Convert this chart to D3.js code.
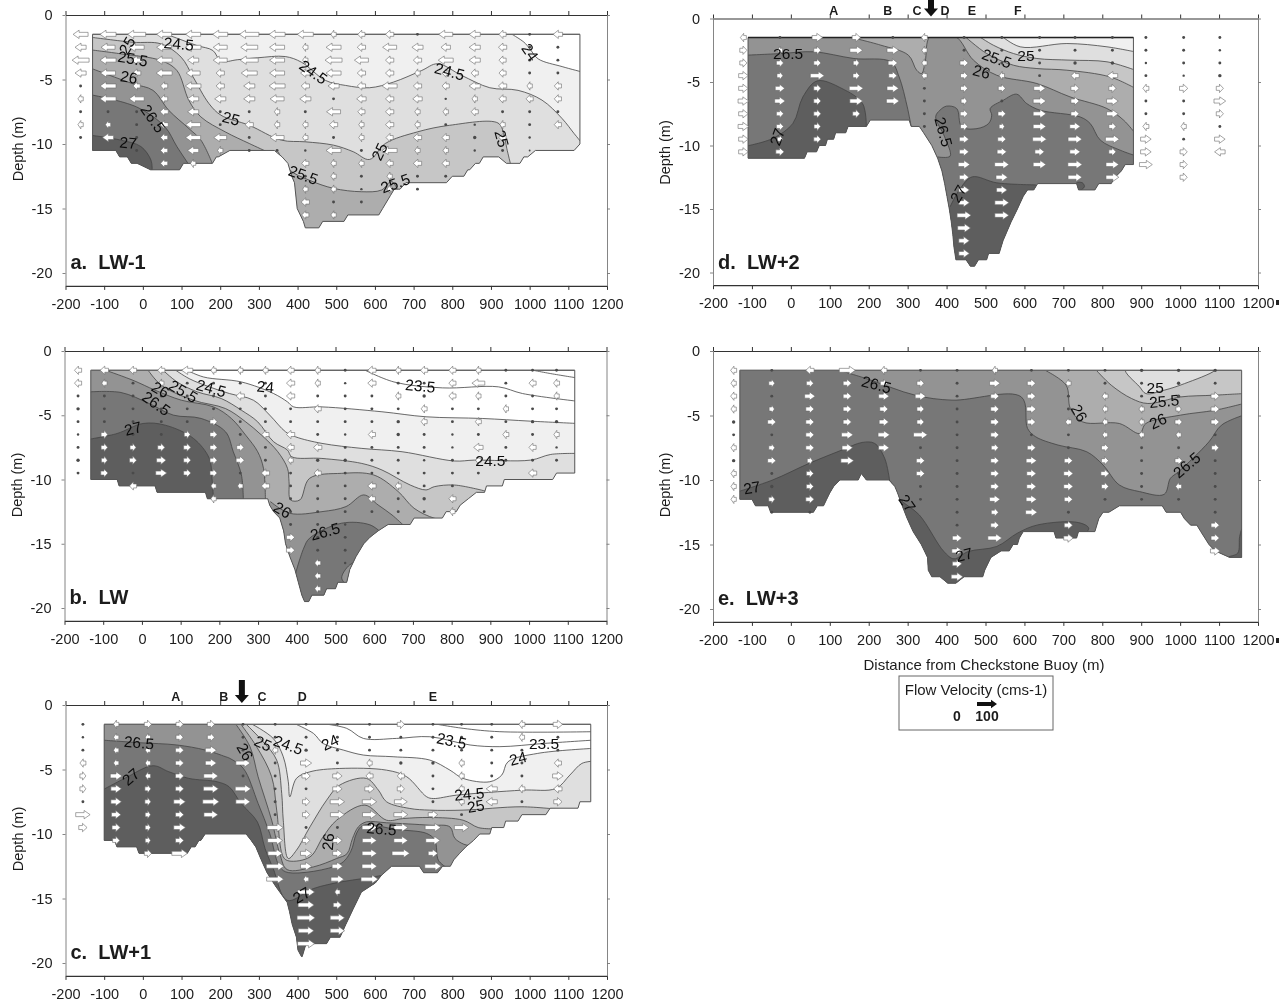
<!DOCTYPE html>
<html>
<head>
<meta charset="utf-8">
<script src="https://cdn.jsdelivr.net/npm/d3@7"></script>
<style>
body {margin:0; background:#fff;}
svg {display:block; filter:blur(0.45px);}
text {font-family:"Liberation Sans", Arial, sans-serif; fill:#1c1c1c;}
.axis text {font-size:14.5px;}
.axis line {stroke:#333; stroke-width:1;}
.axis path {stroke:#333; stroke-width:1.2;}
.side path, .side line {stroke:#777; stroke-width:0.9;}
</style>
</head>
<body>
<div id="chart"></div>
<script>
var xTicks = [-200,-100,0,100,200,300,400,500,600,700,800,900,1000,1100,1200];
var yTicks = [0,-5,-10,-15,-20];
var temps = [23,23.5,24,24.5,25,25.5,26,26.5,27];
var grays = ["#ffffff","#ffffff","#f0f0f0","#dfdfdf","#c6c6c6","#adadad","#939393","#777777","#5e5e5e"];

// Panel a : LW-1
// bottom steps are [from x, to x, depth]
var a_bottom = [[-130,-70,-10.5],[-60,-40,-11],[-30,-15,-11.5],[20,95,-12],[105,180,-11.5],[190,195,-11],[225,340,-10.5],[360,360,-11],[375,375,-11.5],[385,385,-12.5],[392,392,-13],[399,399,-15],[415,415,-16],[420,455,-16.5],[465,520,-16],[530,610,-15.5],[620,620,-15],[640,640,-14],[650,665,-13.5],[680,785,-13],[800,830,-12.5],[840,845,-12],[860,870,-11.5],[880,920,-11],[940,975,-11.5],[985,995,-11],[1015,1115,-10.5],[1130,1130,-10]];
var a_contours = [
	{t:24, warm:"top", line:[[949,-1.4],[985,-2.1],[1000,-2.6],[1022,-3.4],[1084,-4.0],[1140,-4.45]]},
	{t:24.5, warm:"top", line:[[52,-1.4],[93,-1.85],[140,-2.37],[181,-2.75],[202,-3.58],[244,-3.47],[296,-3.32],[368,-3.22],[410,-3.66],[472,-5.07],[524,-5.46],[586,-5.64],[648,-5.2],[721,-4.3],[762,-3.78],[824,-4.68],[897,-5.64],[970,-5.84],[1032,-6.6],[1084,-8.03],[1115,-9.19],[1136,-9.96]]},
	{t:25, warm:"below", line:[[-135,-1.72],[-26,-2.11],[47,-2.24],[99,-3.27],[130,-4.81],[171,-6.87],[202,-7.77],[275,-8.55],[358,-9.7],[420,-9.83],[493,-10.09],[544,-10.6],[586,-11.2],[627,-9.96],[710,-9.06],[793,-8.55],[918,-8.37],[933,-9.19],[941,-10.35],[951,-11.6]]},
	{t:25.5, warm:"left", line:[[-135,-2.7],[-57,-3.01],[47,-3.53],[88,-4.3],[119,-6.62],[150,-7.9],[213,-9.06],[275,-9.96],[321,-10.6]]},
	{t:25.5, warm:"below", line:[[350,-10.6],[379,-12.0],[430,-12.8],[493,-13.44],[565,-13.7],[617,-13.57],[643,-12.9],[665,-14]]},
	{t:26, warm:"left", line:[[-135,-4.12],[-26,-5.33],[26,-5.84],[67,-7.39],[119,-8.8],[150,-9.7],[181,-11.6]]},
	{t:26.5, warm:"left", line:[[-135,-6.18],[-16,-7.13],[57,-8.67],[88,-10.2],[119,-11.6]]},
	{t:27, warm:"left", line:[[-135,-9.32],[-57,-9.7],[-5,-10.2],[21,-11.25],[24,-12.1]]}
];
var a_labels = [["24.5",93,-2.24,5],["25",-41,-2.37,-60],["25.5",-26,-3.4,10],["26",-36,-4.81,10],["26.5",26,-8.03,55],["27",-38,-9.9,5],["25",228,-8.03,15],["24.5",441,-4.43,35],["24.5",793,-4.38,15],["24",1001,-2.88,55],["25",928,-9.58,75],["25",612,-10.6,-65],["25.5",415,-12.4,20],["25.5",653,-13.05,-20]];
var a_arrowX = [-161,-90,-16,55,130,200,275,347,420,493,565,638,710,783,858,930,1000,1073];
var a_arrowU = [
	[-25,-15,-35,-15,-3,-5,-3,-5,-3],
	[-30,-20,-30,-25,-30,-30,-3,-5,-15],
	[-40,-25,-15,-10,-8,-25,-3,-3,-3,-3],
	[-25,-25,-30,-30,-8,-8,-10,-10,-8,-8,-8],
	[-25,-28,-15,-20,-28,-15,-15,-25,-25,-15,-5],
	[-25,-20,-20,-10,-10,-15,-3,-3,-18,-5],
	[-60,-35,-40,-30,-15,-15,-3,-10,-3,-3],
	[-30,-25,-25,-25,-30,-20,-5,-5,-20,-3],
	[-30,-5,-5,-12,-10,-15,-3,-5,-5,-2,-8,-3,-5,-10,-8],
	[-5,-25,-35,-25,-15,-3,-20,-10,-3,-25,-5,-5,-5,-3,-5],
	[-8,-10,-20,-10,-10,-12,-8,-5,-5,-3,-5,-3,-2,-3],
	[-10,-20,-10,-10,-25,-10,-10,-10,-8,-25,-8,-5,-5],
	[-3,-15,-10,-5,-10,-12,-5,-5,-10,-5,-10,-3,-3],
	[-20,-12,-25,-8,-8,-2,-5,-3,-8,-5,-8,-3],
	[-15,-15,-15,-8,-15,-5,-8,-2,-4,-2],
	[-8,-10,-8,-8,-10,-8,-3,-5,-8,-3],
	[-3,-3,-3,-3,-5,-8,-3,-3,-2,-1],
	[-12,-3,-3,-3,-8,-8,-3,-8]
];

// Panel b : LW
var b_bottom = [[-132,-64,-10],[-59,34,-10.5],[39,164,-11],[169,325,-11.5],[330,330,-12],[340,340,-12.5],[356,356,-13],[366,366,-14],[371,371,-15],[382,382,-16],[395,395,-17],[404,404,-18],[413,413,-19],[420,431,-19.5],[439,470,-19],[477,500,-18.5],[506,529,-18],[537,537,-17],[553,553,-16],[573,573,-15],[589,589,-14.5],[610,610,-14],[636,693,-13.5],[703,776,-13],[786,812,-12.5],[822,822,-12],[843,843,-11.5],[864,885,-11],[890,931,-10.5],[936,1061,-10],[1071,1118,-9.5]];
var b_contours = [
	{t:23, warm:"top", line:[[993,-1.4],[1056,-1.76],[1125,-2.1]]},
	{t:23.5, warm:"top", line:[[568,-1.37],[651,-2.41],[776,-2.87],[921,-2.79],[983,-3.31],[1125,-3.91]]},
	{t:24, warm:"top", line:[[107,-1.37],[159,-2.02],[257,-2.41],[340,-3.31],[376,-3.96],[392,-4.35],[465,-4.35],[620,-4.73],[734,-5.12],[879,-5.25],[1004,-5.46],[1125,-5.64]]},
	{t:24.5, warm:"top", line:[[81,-1.37],[122,-2.15],[174,-2.79],[226,-3.31],[288,-3.83],[330,-4.99],[371,-6.29],[397,-6.68],[465,-7.19],[568,-7.58],[672,-7.84],[807,-8.56],[859,-8.49],[1004,-8.49],[1056,-8.05],[1125,-7.97]]},
	{t:25, warm:"top", line:[[50,-1.37],[91,-2.41],[143,-3.18],[205,-3.7],[257,-4.61],[299,-5.51],[340,-7.06],[376,-7.71],[387,-8.23],[465,-8.36],[568,-8.75],[620,-9.26],[693,-10.43],[734,-10.81],[755,-10.56],[807,-10.43],[887,-10.9]]},
	{t:25.5, warm:"top", line:[[13,-1.37],[50,-2.66],[133,-3.83],[216,-4.48],[268,-5.51],[309,-6.55],[351,-7.84],[376,-9.13],[380,-10.17],[384,-11.59],[408,-11.59],[433,-9.91],[516,-9.52],[599,-9.65],[662,-10.94],[703,-12.24],[755,-13.01],[781,-13.1]]},
	{t:26, warm:"top", line:[[-106,-1.37],[-23,-2.28],[34,-3.05],[102,-3.83],[185,-4.35],[231,-5.25],[268,-6.55],[299,-7.84],[314,-9.13],[319,-11.6]]},
	{t:26, warm:"below", line:[[332,-11.72],[382,-12.63],[465,-12.5],[527,-12.11],[573,-11.2],[610,-11.98],[646,-12.76],[677,-13.6]]},
	{t:26.5, warm:"left", line:[[-135,-3.18],[-54,-3.23],[19,-4.09],[81,-4.99],[153,-5.25],[216,-6.29],[236,-7.84],[257,-9.65],[262,-11.6]]},
	{t:26.5, warm:"below", line:[[397,-17.28],[418,-15.34],[433,-14.57],[516,-13.4],[589,-13.53],[620,-14.18]]},
	{t:26, warm:"closed", line:[[563,-16.38],[537,-16.64],[516,-17.67],[532,-18.19],[548,-17.41]]},
	{t:27, warm:"left", line:[[-135,-6.86],[-64,-6.42],[3,-5.64],[60,-5.77],[133,-6.8],[174,-8.36],[181,-9.91],[185,-11.6]]}
];
var b_labels = [["26",48,-3.0,30],["25.5",107,-3.13,30],["24.5",179,-2.9,15],["24",319,-2.79,5],["23.5",719,-2.72,5],["26.5",37,-4.09,35],["27",-23,-6.03,-15],["24.5",900,-8.56,0],["26",363,-12.37,30],["26.5",473,-14.05,-15]];
var b_arrowX = [-165,-97,-23,50,117,185,254,319,384,454,525,594,662,729,802,869,940,1009,1071];
var b_arrowU = [
	[-8,-8,-3,-4,-3,-2,-3,-4,-3],
	[-10,-5,-3,-3,-3,7,7,6,8],
	[-8,-3,-3,-3,-3,-3,6,8,-3,-8],
	[-8,-5,-3,-3,-3,-3,8,12,15],
	[-15,-3,-3,-3,-3,6,8,8,8],
	[-5,-3,-3,-3,8,8,8,8,8,-5,-5],
	[-5,-3,-10,-3,-3,-3,8,10,-3,-5],
	[-5,-3,-3,-3,-3,-8,-3,-3,-10,-10],
	[-8,-10,-10,-3,-3,-10,-8,-5,-3,-3,-3,-3,-3,10,10],
	[-5,-5,-3,-8,-3,-3,-10,-4,-8,-3,-3,-3,-3,-3,-3,-6,-6,-6],
	[-3,-2,-3,-3,-3,-2,-3,-4,-3,-3,-3,-3,-2,-3,-3,-2],
	[-10,-10,-3,-3,-3,-8,-3,-3,-3,-10,-8,-3],
	[-5,-3,-5,-3,-4,-4,-3,-3,-3,-6,-3,-3],
	[-8,-3,-4,-6,-6,-3,-3,-2,-3,-3,-4,-3],
	[-8,-8,-8,-3,-3,-2,-2,-3,-3,-3,-8,-5],
	[-5,-18,-5,-3,-6,-3,-12,-5,-3],
	[-3,-3,-3,-5,-3,-6,-3,-3],
	[-3,-8,-3,-3,-4,-3,-8,-3,-10],
	[-3,-6,-5,-3,-4,-5,-2,-3]
];

// Panel c : LW+1
var c_bottom = [[-100,-73,-10.5],[-67,-16,-11],[-10,115,-11.5],[125,135,-11],[145,150,-10.5],[161,267,-10],[280,280,-10.5],[292,292,-11],[306,306,-12],[321,321,-13],[342,342,-14],[373,373,-15.3],[379,379,-16],[386,386,-17],[397,397,-18],[401,401,-19],[410,412,-19.5],[422,475,-18.5],[485,510,-18],[525,525,-17],[544,544,-15.8],[565,565,-14.5],[601,601,-13.8],[617,617,-13.2],[643,715,-12.5],[726,762,-13],[775,795,-12.5],[804,804,-12],[819,819,-11.5],[835,835,-11],[855,855,-10.5],[871,897,-10],[902,933,-9.5],[938,970,-9],[980,1042,-8.5],[1053,1125,-8],[1130,1158,-7.5]];
var c_contours = [
	{t:23, warm:"top", line:[[742,-1.4],[828,-1.81],[923,-2.07],[1165,-2.07]]},
	{t:23.5, warm:"top", line:[[453,-1.4],[527,-1.81],[570,-2.59],[656,-2.59],[742,-2.46],[846,-3.1],[923,-3.23],[1037,-2.98],[1165,-2.72]]},
	{t:24, warm:"top", line:[[389,-1.4],[441,-2.2],[466,-2.98],[518,-3.49],[570,-3.88],[647,-4.01],[742,-4.27],[794,-5.05],[828,-5.69],[897,-5.95],[928,-5.43],[944,-4.4],[1021,-3.75],[1165,-3.36]]},
	{t:24.5, warm:"top", line:[[277,-1.4],[337,-2.59],[363,-4.01],[376,-5.95],[380,-7.12],[397,-5.69],[432,-5.18],[509,-4.92],[630,-5.05],[682,-5.56],[734,-7.12],[751,-7.25],[811,-6.99],[980,-6.6],[1068,-6.47],[1104,-5.43],[1135,-4.53],[1165,-4.35]]},
	{t:25, warm:"top", line:[[264,-1.4],[311,-2.85],[346,-4.27],[359,-6.86],[363,-8.93],[376,-11.9],[397,-11.26],[432,-9.45],[475,-7.38],[509,-6.21],[578,-5.69],[609,-6.6],[630,-7.5],[690,-8.02],[742,-8.15],[828,-8.15],[980,-7.89],[1078,-8.1]]},
	{t:25.5, warm:"top", line:[[251,-1.4],[294,-3.23],[333,-5.56],[346,-8.15],[363,-11.78],[378,-12.09],[432,-11.78],[466,-10.22],[501,-8.93],[574,-7.76],[630,-8.93],[673,-8.8],[742,-8.72],[828,-8.93],[867,-9.5],[902,-9.6]]},
	{t:26, warm:"top", line:[[238,-1.4],[277,-3.23],[298,-5.56],[333,-8.93],[354,-11.52],[373,-12.76],[441,-12.55],[501,-11.9],[528,-11.52],[542,-10.35],[557,-9.45],[578,-9.06],[630,-9.13],[742,-9.32],[794,-9.45],[807,-10.35],[841,-10.87],[859,-10.6]]},
	{t:26.5, warm:"below", line:[[-105,-2.72],[-10,-2.92],[88,-3.1],[161,-3.49],[213,-4.0],[225,-4.14],[260,-4.92],[298,-7.63],[328,-9.96],[354,-12.55],[376,-12.99],[509,-12.34],[537,-11.39],[553,-9.91],[570,-9.32],[656,-9.65],[734,-9.96],[755,-10.48],[764,-12.03],[785,-12.6]]},
	{t:27, warm:"below", line:[[-105,-6.6],[-47,-5.69],[26,-4.71],[67,-5.17],[119,-5.69],[192,-5.95],[223,-6.34],[254,-7.63],[296,-9.06],[316,-11.13],[337,-12.68],[373,-15.14],[441,-14.23],[513,-13.71],[570,-13.45],[620,-13.2]]}
];
var c_labels = [["26.5",-10,-2.92,5],["27",-31,-5.56,-40],["26",264,-3.62,60],["25",311,-2.98,25],["24.5",376,-3.1,20],["24",484,-2.9,-25],["23.5",798,-2.77,12],["23.5",1037,-2.98,0],["24",970,-4.14,-15],["24.5",844,-6.91,-5],["25",861,-7.84,-10],["26.5",617,-9.6,5],["26",479,-10.6,-85],["27",410,-14.75,-30]];
var c_arrowX = [-155,-69,13,95,176,259,342,422,503,586,667,750,824,902,980,1073];
var c_arrowU = [
	[-3,-2,-3,-6,6,6,-3,22,10],
	[-5,-5,-5,-5,16,14,14,12,10,8],
	[8,-5,-5,-5,-5,6,6,5,5,5,8],
	[8,8,10,10,10,10,16,10,16,10,28],
	[8,8,15,15,22,25,32,20],
	[-3,-3,-3,22,-3,28,22],
	[-3,-3,-5,-3,-3,-3,-3,-3,30,25,22,38,35],
	[-3,-3,-4,15,10,-3,8,8,-3,8,15,15,-5,35,30,40,28,35],
	[-3,-3,-3,-3,12,12,22,20,-3,12,12,14,18,-5,10,22,22],
	[-3,-3,-3,-5,-8,12,22,20,24,22,24,25,35],
	[8,-3,-3,-4,-8,8,18,20,20,20,38],
	[-3,-3,-3,-4,-3,-3,-3,12,28,22,12,32],
	[-3,-3,-3,-5,-5,-5,-5,-3,22],
	[-3,-3,-3,-3,-3,-15,-15],
	[-6,-5,-3,-3,-3,-6,-3],
	[12,-3,-3,-8,14,-10,10]
];
var c_letters = ["A","B","C","D","E"];
var c_letterX = [85,209,308,412,750];
var c_markX = 256;

// Panel d : LW+2
var d_bottom = [[-110,35,-11],[42,66,-10.5],[73,89,-10],[94,110,-9.5],[115,141,-9],[147,194,-8.5],[204,304,-8],[309,330,-8.5],[341,341,-9],[362,362,-10],[377,377,-11],[388,388,-12],[395,395,-13],[401,401,-14],[407,407,-15],[412,412,-16],[416,416,-17],[419,419,-18],[424,450,-19],[461,472,-19.5],[482,503,-19],[508,535,-18.5],[545,545,-17.5],[566,566,-16],[582,582,-15],[597,597,-14],[608,624,-13.5],[634,734,-13],[739,781,-13.5],[791,823,-13],[833,833,-12.5],[849,849,-12],[859,880,-11.5]];
var d_contours = [
	{t:24.5, warm:"top", line:[[538,-1.3],[589,-2.23],[709,-1.97],[812,-2.23],[885,-2.63]]},
	{t:25, warm:"top", line:[[478,-1.3],[520,-2.1],[572,-2.76],[632,-3.15],[717,-3.28],[812,-3.41],[885,-4.07]]},
	{t:25.5, warm:"top", line:[[443,-1.3],[503,-2.76],[572,-3.68],[632,-3.94],[709,-4.07],[820,-4.6],[885,-5.5]]},
	{t:26, warm:"top", line:[[141,-1.39],[231,-2.1],[302,-2.89],[323,-4.07],[336,-4.33],[345,-3.4],[358,-1.4],[422,-1.4],[469,-3.28],[529,-4.47],[632,-5.12],[717,-6.17],[812,-7.09],[855,-8.01],[885,-9.06]]},
	{t:26.5, warm:"left", line:[[-115,-2.89],[-26,-2.76],[58,-2.62],[162,-3.15],[257,-3.41],[278,-4.59],[299,-6.96],[309,-8.5]]},
	{t:26.5, warm:"below", line:[[377,-10.9],[409,-10.84],[395,-9.32],[372,-7.74],[383,-7.22],[400,-6.9],[426,-7.09],[439,-8.53],[478,-8.67],[508,-8.27],[516,-7.61],[512,-7.09],[546,-6.43],[580,-5.96],[606,-6.7],[640,-7.22],[743,-7.75],[769,-8.27],[795,-9.58],[846,-10.37],[885,-10.8]]},
	{t:27, warm:"left", line:[[-115,-10.05],[-47,-9.45],[5,-8.27],[31,-6.17],[68,-4.91],[131,-5.51],[184,-6.69],[194,-8.6]]},
	{t:27, warm:"below", line:[[409,-14.83],[435,-13.39],[466,-12.47],[529,-12.94],[629,-13.1]]},
	{t:27, warm:"closed", line:[[734,-12.94],[749,-12.94],[754,-13.25],[739,-13.57]]}
];
var d_labels = [["26.5",-7,-2.76,0],["27",-35,-9.32,-70],["26.5",392,-8.93,75],["25.5",529,-3.15,20],["25",604,-2.89,0],["26",490,-4.2,15],["27",430,-13.8,-60]];
var d_arrowX = [-122,-28,68,168,262,343,445,542,639,730,826,912,1009,1102];
var d_arrowU = [
	[-6,8,8,12,12,14,12,14,12,12],
	[-3,-5,8,6,12,14,8,8,5,10],
	[14,8,8,20,8,8,8,7,8],
	[10,18,6,7,20,18,8],
	[-3,16,12,10,16,18],
	[-6,-5,-5,-5,-3,-3,-3,-3],
	[-3,-3,10,8,8,6,9,8,12,12,16,12,14,14,20,18,14,14],
	[-3,-3,-3,-5,8,-3,9,5,10,12,22,16,14,20,20],
	[-3,-3,-3,-3,16,18,18,18,20,12,18],
	[-3,-3,-4,-10,10,10,10,14,20,14,22,20],
	[-3,-3,-4,-14,8,16,16,8,20,8,18,18],
	[-3,-3,-2,-3,-6,-3,-3,-6,14,14,18],
	[-3,-3,-3,-2,10,-3,-3,-5,-3,8,8,8],
	[-3,-2,-3,-4,8,16,8,-3,14,-14]
];
var d_letters = ["A","B","C","D","E","F"];
var d_letterX = [110,249,324,396,465,583];
var d_markX = 360;

// Panel e : LW+3
var e_bottom = [[-131,-100,-11.5],[-91,-58,-12],[-52,58,-12.5],[68,84,-12],[92,92,-11.5],[100,100,-11],[110,110,-10.5],[126,173,-10],[181,181,-9.5],[194,252,-10],[267,267,-10.5],[274,274,-11],[286,286,-12],[299,299,-13],[314,314,-14],[335,335,-15],[351,351,-16],[353,353,-17],[362,383,-17.5],[403,424,-18],[445,493,-17.5],[498,498,-17],[514,514,-16],[540,561,-15.5],[571,582,-15],[587,587,-14.5],[597,676,-14],[681,734,-14.5],[739,781,-14],[791,791,-13],[802,817,-12.5],[844,954,-12],[964,1001,-12.5],[1011,1011,-13],[1027,1043,-13.5],[1053,1053,-14],[1074,1074,-15],[1090,1090,-15.5],[1127,1158,-16]];
var e_contours = [
	{t:25.5, warm:"top", line:[[781,-1.37],[823,-2.65],[875,-3.68],[917,-4.07],[1001,-3.56],[1085,-3.43],[1163,-3.3]]},
	{t:26, warm:"top", line:[[645,-1.37],[707,-2.65],[718,-4.46],[749,-5.49],[844,-5.62],[896,-6.39],[912,-5.62],[1001,-4.97],[1090,-4.59],[1163,-4.07]]},
	{t:26.5, warm:"top", line:[[110,-1.37],[194,-2.14],[320,-3.43],[414,-3.81],[592,-3.56],[608,-6.0],[629,-6.65],[686,-7.29],[760,-7.81],[802,-8.84],[844,-10.39],[896,-10.9],[959,-11.11],[975,-9.87],[996,-9.36],[1074,-7.04],[1106,-5.75],[1163,-4.97]]},
	{t:27, warm:"left", line:[[-135,-10.9],[-47,-10.0],[47,-8.71],[131,-7.68],[183,-7.09],[215,-7.16],[241,-8.32],[254,-10.1]]},
	{t:27, warm:"below", line:[[257,-10.13],[278,-11.42],[330,-12.71],[393,-15.54],[419,-16.11],[456,-15.54],[529,-15.15],[582,-14.12],[634,-13.48],[739,-13.3],[765,-13.74],[744,-14.6]]},
	{t:27, warm:"closed", line:[[1124,-16],[1148,-15.67],[1153,-14.37],[1160,-13.74],[1170,-16.5]]},
	{t:24.5, warm:"closed", line:[[859,-1.37],[896,-2.78],[912,-3.3],[959,-3.04],[1011,-2.53],[1090,-1.49],[1095,-1.2]]}
];
var e_labels = [["26.5",220,-2.6,15],["27",-100,-10.6,-10],["27",299,-11.8,55],["27",445,-15.8,-15],["26",741,-4.8,60],["25",936,-2.86,0],["25.5",959,-3.89,-5],["26",943,-5.44,-25],["26.5",1017,-8.84,-40]];
var e_arrowX = [-147,-49,49,145,239,333,427,524,618,713,807,901,996,1090];
var e_arrowU = [
	[-6,-5,-6,-5,-4,-3,-5,-4,-5,-5,-5],
	[-3,6,-3,5,10,-3,6,10,-3,-4,6,-3],
	[-10,8,14,10,10,10,10,5,8,8,10,-3],
	[30,10,10,10,10,16,14,18],
	[-6,8,14,10,12,16,14],
	[-3,8,14,8,8,20,-3,10,10,-3,-3],
	[-3,-3,-3,-3,-3,-3,-3,-3,-3,-3,-3,-3,-3,12,14,12,16],
	[-5,14,10,10,10,10,8,10,10,10,14,8,10,20],
	[-3,10,10,12,10,-3,10,14,12,12,14,16],
	[-3,-5,-3,-3,-6,-3,-3,10,12,12,10,-3,10,12],
	[-3,-3,-6,-5,-5,-5,8,8,10,8,-3],
	[-4,-3,-3,-5,-5,-5,-3,-3,-3,-3,-3],
	[-4,-4,-4,5,8,-5,-3,8,-3,-6,-3],
	[-4,-3,10,10,10,-3,8,-3,-3,-3,-3,-3,10,10,12]
];

var panels = [
	{id:"a", title:"a.  LW-1", base:23.5, bottom:a_bottom, contours:a_contours, labels:a_labels, arrowX:a_arrowX, arrowU:a_arrowU, left:65.5, right:607, y0:15, y20:273},
	{id:"b", title:"b.  LW", base:23, bottom:b_bottom, contours:b_contours, labels:b_labels, arrowX:b_arrowX, arrowU:b_arrowU, left:64.5, right:606.5, y0:351, y20:608},
	{id:"c", title:"c.  LW+1", base:23, bottom:c_bottom, contours:c_contours, labels:c_labels, arrowX:c_arrowX, arrowU:c_arrowU, letters:c_letters, letterX:c_letterX, markX:c_markX, left:65.5, right:607, y0:705, y20:963},
	{id:"d", title:"d.  LW+2", base:24, bottom:d_bottom, contours:d_contours, labels:d_labels, arrowX:d_arrowX, arrowU:d_arrowU, letters:d_letters, letterX:d_letterX, markX:d_markX, left:713, right:1258, y0:18.5, y20:272.5},
	{id:"e", title:"e.  LW+3", base:25, bottom:e_bottom, contours:e_contours, labels:e_labels, arrowX:e_arrowX, arrowU:e_arrowU, left:713, right:1258, y0:351, y20:609}
];

var bandFill = d3.scaleOrdinal().domain(temps).range(grays);
var arrowLen = d3.scaleLinear().domain([0,6,20,40,100]).range([2,6,14,18,22]);

var svg = d3.select("#chart").append("svg")
	.attr("width", 1287)
	.attr("height", 1005);

function arrowPath(len) {
	var head = Math.min(6, len*0.55);
	var s = 2, h = 4.2;
	var x0 = -len/2, x1 = len/2, xh = x1-head;
	return "M"+x0+","+(-s)+"L"+xh+","+(-s)+"L"+xh+","+(-h)+"L"+x1+",0L"+xh+","+h+"L"+xh+","+s+"L"+x0+","+s+"Z";
}

function drawPanel(p) {
	var x = d3.scaleLinear().domain([-200,1200]).range([p.left,p.right]);
	var perM = (p.y20-p.y0)/20;
	var y = d3.scaleLinear().domain([0,-21]).range([p.y0,p.y0+21*perM]);
	var yEnd = y(-21);

	var g = svg.append("g").attr("class","panel");
	var xy = function(d) {return x(d[0])+","+y(d[1]);};
	var line = d3.line().x(function(d) {return x(d[0]);}).y(function(d) {return y(d[1]);}).curve(d3.curveCatmullRom.alpha(0.5));
	var closedLine = d3.line().x(function(d) {return x(d[0]);}).y(function(d) {return y(d[1]);}).curve(d3.curveCatmullRomClosed.alpha(0.5));

	// section outline from the bottom steps
	var outline = [[p.bottom[0][0],-1.5]];
	p.bottom.forEach(function(s) {
		outline.push([s[0],s[2]]);
		if (s[1]!=s[0]) outline.push([s[1],s[2]]);
	});
	outline.push([p.bottom[p.bottom.length-1][1],-1.5]);
	var outlinePath = "M"+outline.map(xy).join("L")+"Z";

	svg.append("clipPath").attr("id","clip-"+p.id)
		.append("path").attr("d",outlinePath);

	var inner = g.append("g").attr("clip-path","url(#clip-"+p.id+")");
	inner.append("path").attr("d",outlinePath).style("fill",bandFill(p.base));

	// warm side of each contour, painted in order
	var wrap = {
		below: [[1400,-40],[-400,-40]],
		top: [[1400,-40],[-400,-40],[-400,-1]],
		left: [[-400,-40]]
	};
	inner.selectAll("path.band")
		.data(p.contours).enter()
		.append("path")
		.attr("class","band")
		.attr("d",function(d) {
			if (d.warm=="closed") return closedLine(d.line);
			return line(d.line)+"L"+wrap[d.warm].map(xy).join("L")+"Z";
		})
		.style("fill",function(d) {return bandFill(d.t);});

	inner.selectAll("path.contour")
		.data(p.contours).enter()
		.append("path")
		.attr("class","contour")
		.attr("d",function(d) {return d.warm=="closed" ? closedLine(d.line) : line(d.line);})
		.style("fill","none")
		.style("stroke","#444")
		.style("stroke-width",0.8);

	g.append("path").attr("d",outlinePath)
		.style("fill","none").style("stroke","#555").style("stroke-width",1);
	// surface line is heavier
	g.append("line")
		.attr("x1",x(outline[0][0])).attr("x2",x(outline[outline.length-1][0]))
		.attr("y1",y(-1.5)).attr("y2",y(-1.5))
		.style("stroke", p.id=="d" ? "#222" : "#666")
		.style("stroke-width", p.id=="d" ? 1.6 : 1.2);

	// velocity marks, one row per metre below -1.5
	var marks = [];
	p.arrowU.forEach(function(col,i) {
		col.forEach(function(u,j) {
			marks.push({x:p.arrowX[i], d:-1.5-j, u:u});
		});
	});
	g.selectAll("circle.dot")
		.data(marks.filter(function(d) {return Math.abs(d.u)<5;})).enter()
		.append("circle")
		.attr("class","dot")
		.attr("cx",function(d) {return x(d.x);})
		.attr("cy",function(d) {return y(d.d);})
		.attr("r",function(d) {return 0.7+Math.abs(d.u)*0.25;})
		.style("fill","#4a4a4a");
	g.selectAll("path.arrow")
		.data(marks.filter(function(d) {return Math.abs(d.u)>=5;})).enter()
		.append("path")
		.attr("class","arrow")
		.attr("d",function(d) {return arrowPath(arrowLen(Math.abs(d.u)));})
		.attr("transform",function(d) {
			return "translate("+x(d.x)+","+y(d.d)+")"+(d.u<0 ? " rotate(180)" : "");
		})
		.style("fill","#fff")
		.style("stroke","#6a6a6a")
		.style("stroke-width",0.6);

	// contour labels
	g.selectAll("text.tlabel")
		.data(p.labels).enter()
		.append("text")
		.attr("class","tlabel")
		.attr("text-anchor","middle")
		.attr("dy","0.35em")
		.attr("transform",function(d) {return "translate("+x(d[1])+","+y(d[2])+") rotate("+d[3]+")";})
		.style("font-size","15.5px")
		.style("fill","#0c0c0c")
		.text(function(d) {return d[0];});

	// axes
	var fmt = function(d) {return String(d);};
	g.append("g").attr("class","axis")
		.attr("transform","translate(0,"+yEnd+")")
		.call(d3.axisBottom(x).tickValues(xTicks).tickSize(4).tickSizeOuter(0).tickPadding(9).tickFormat(fmt));
	g.append("g").attr("class","axis")
		.attr("transform","translate(0,"+y(0)+")")
		.call(d3.axisTop(x).tickValues(xTicks).tickSize(4).tickSizeOuter(0).tickFormat(""));
	g.append("g").attr("class","axis side")
		.attr("transform","translate("+x(-200)+",0)")
		.call(d3.axisLeft(y).tickValues(yTicks).tickSize(3).tickSizeOuter(0).tickPadding(10).tickFormat(fmt));
	g.append("g").attr("class","axis side")
		.attr("transform","translate("+x(1200)+",0)")
		.call(d3.axisRight(y).tickValues(yTicks).tickSize(3).tickSizeOuter(0).tickFormat(""));

	g.append("text")
		.attr("text-anchor","middle")
		.attr("transform","translate("+(p.left-43)+","+(p.y0+134)+") rotate(-90)")
		.style("font-size","14.5px")
		.text("Depth (m)");

	g.append("text")
		.attr("x",p.left+5)
		.attr("y",p.y20-4)
		.style("font-size","20px")
		.style("font-weight","bold")
		.style("white-space","pre")
		.attr("xml:space","preserve")
		.text(p.title);

	// station letters and the black marker above the axis
	if (p.letters) {
		g.selectAll("text.station")
			.data(p.letters).enter()
			.append("text")
			.attr("class","station")
			.attr("text-anchor","middle")
			.attr("x",function(d,i) {return x(p.letterX[i]);})
			.attr("y",y(0)-4)
			.style("font-size","12.5px")
			.style("font-weight","bold")
			.text(function(d) {return d;});
		var mx = x(p.markX), my = y(0);
		g.append("path")
			.attr("d","M"+(mx-3)+","+(my-25)+"L"+(mx+3)+","+(my-25)+"L"+(mx+3)+","+(my-10)+"L"+(mx+7)+","+(my-10)+"L"+mx+","+(my-2)+"L"+(mx-7)+","+(my-10)+"L"+(mx-3)+","+(my-10)+"Z")
			.style("fill","#111");
	}
}

panels.forEach(drawPanel);

// stray scan marks after the last tick label of the right column
[302,640].forEach(function(py) {
	svg.append("rect").attr("x",1276).attr("y",py-2).attr("width",3).attr("height",5).style("fill","#222");
});

svg.append("text")
	.attr("x",984).attr("y",670)
	.attr("text-anchor","middle")
	.style("font-size","15px")
	.text("Distance from Checkstone Buoy (m)");

// legend
svg.append("rect")
	.attr("x",899).attr("y",676).attr("width",154).attr("height",54)
	.style("fill","#fff").style("stroke","#666").style("stroke-width",1);
svg.append("text")
	.attr("x",976).attr("y",695)
	.attr("text-anchor","middle")
	.style("font-size","15px")
	.text("Flow Velocity (cms-1)");
svg.append("text")
	.attr("x",957).attr("y",721)
	.attr("text-anchor","middle")
	.style("font-size","14px").style("font-weight","bold")
	.text("0");
svg.append("text")
	.attr("x",987).attr("y",721)
	.attr("text-anchor","middle")
	.style("font-size","14px").style("font-weight","bold")
	.text("100");
svg.append("path")
	.attr("d",arrowPath(20))
	.attr("transform","translate(987,704)")
	.style("fill","#111");
</script>
</body>
</html>
